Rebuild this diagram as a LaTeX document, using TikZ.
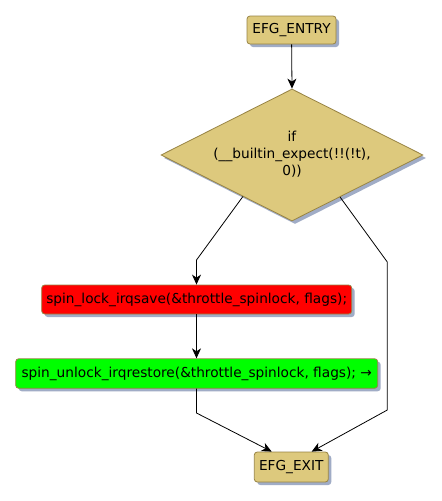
\documentclass[tikz,border=0pt]{standalone}
\usepackage{fontspec}
\setmainfont{DejaVu Sans}
\usetikzlibrary{shapes.geometric,shadows,arrows.meta,calc}
\definecolor{tan}{RGB}{221,201,125}
\definecolor{bordc}{RGB}{152,132,68}
\definecolor{shadc}{RGB}{160,172,198}
\definecolor{redc}{RGB}{255,0,0}
\definecolor{greenc}{RGB}{0,255,0}
\begin{document}
\begin{tikzpicture}[x=1pt,y=-1pt,
  every node/.style={font=\fontsize{13.7}{17}\selectfont},
  shad/.style={drop shadow={shadow xshift=3pt,shadow yshift=-3pt,fill=shadc,opacity=1}},
  boxst/.style={draw=bordc,line width=0.8pt,rounded corners=3pt,inner sep=0pt,shad},
  decision/.style={diamond,draw=bordc,line width=0.8pt,fill=tan,inner sep=0pt,shad},
  arr/.style={-{Stealth[length=10pt,width=9pt,inset=3pt]},line width=0.8pt,black},
  ln/.style={line width=0.8pt,black}]
\useasboundingbox (0,0) rectangle (442,501);
\fill[white] (0,0) rectangle (442,501);
\node[boxst,fill=tan,minimum width=89pt,minimum height=28pt] (entry) at (291.5,30) {EFG\_ENTRY};
\node[decision,minimum width=262pt,minimum height=132pt] (d) at (292,155) {};
\node[align=center] (dtext) at (292,154.5) {if\\(\_\_builtin\_expect(!!(!t),\\0))};
\node[boxst,fill=redc,minimum width=310pt,minimum height=29pt] (red) at (196.7,299.5) {spin\_lock\_irqsave(\&throttle\_spinlock, flags);};
\node[boxst,fill=greenc,minimum width=362pt,minimum height=29.5pt] (green) at (196.7,373.5) {spin\_unlock\_irqrestore(\&throttle\_spinlock, flags); →};
\node[boxst,fill=tan,minimum width=74pt,minimum height=30pt] (exit) at (291.3,467) {EFG\_EXIT};
\coordinate (dl) at ($(d.west)!0.626!(d.south)$);
\coordinate (dr) at ($(d.east)!0.634!(d.south)$);
\coordinate (l1) at (196.5,260);
\coordinate (r1) at (387.3,262);
\coordinate (r2) at (387.3,410);
\coordinate (g1) at (196.5,413);
\draw[arr] (entry) -- (d.north);
\draw[arr] (dl) -- (l1) -- (red.north -| l1);
\draw[arr] (red.south -| l1) -- (green.north -| l1);
\draw[arr] (green.south -| g1) -- (g1) -- ([xshift=-19.6pt]exit.north);
\draw[arr] (dr) -- (r1) -- (r2) -- ([xshift=20.4pt]exit.north);
\end{tikzpicture}
\end{document}
